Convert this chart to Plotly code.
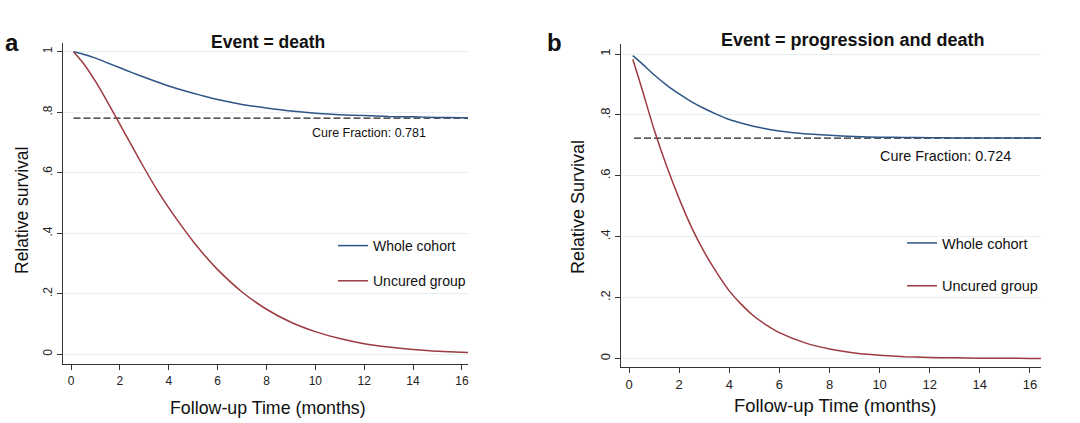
import plotly.graph_objects as go

# ---------------- data ----------------
# Panel a: Event = death
t_a = [0.1, 0.5, 1, 1.5, 2, 2.5, 3, 3.5, 4, 4.5, 5, 5.5, 6, 7, 8, 9, 10, 11, 12, 13, 14,
       15, 16, 16.3]
whole_a = [1.0, 0.992, 0.979, 0.963, 0.947, 0.931, 0.916, 0.901, 0.887, 0.8745, 0.863,
           0.852, 0.842, 0.826, 0.814, 0.804, 0.797, 0.792, 0.789, 0.786, 0.785, 0.783,
           0.782, 0.782]
uncured_a = [1.0, 0.962, 0.902, 0.833, 0.76, 0.687, 0.615, 0.546, 0.484, 0.427, 0.373,
             0.324, 0.28, 0.206, 0.149, 0.106, 0.075, 0.052, 0.035, 0.024, 0.016, 0.010,
             0.007, 0.006]
cure_a = 0.781
cure_t_a = [0.1, 16.3]

# Panel b: Event = progression and death
t_b = [0.15, 0.5, 1, 1.5, 2, 2.5, 3, 3.5, 4, 4.5, 5, 5.5, 6, 7, 8, 9, 10, 11, 12, 13, 14,
       15, 16, 16.44]
whole_b = [0.995, 0.970, 0.932, 0.898, 0.869, 0.843, 0.821, 0.802, 0.785, 0.7726, 0.762,
           0.754, 0.747, 0.738, 0.733, 0.729, 0.727, 0.726, 0.725, 0.7246, 0.7243, 0.7242,
           0.7241, 0.7241]
uncured_b = [0.983, 0.89, 0.752, 0.632, 0.525, 0.43, 0.35, 0.282, 0.222, 0.176, 0.138,
             0.109, 0.085, 0.052, 0.031, 0.018, 0.011, 0.006, 0.0035, 0.002, 0.0011,
             0.0006, 0.0003, 0.0002]
cure_b = 0.724
cure_t_b = [0.2, 16.44]

x_ticks = [0, 2, 4, 6, 8, 10, 12, 14, 16]
y_ticks = [0, 0.2, 0.4, 0.6, 0.8, 1]
y_tick_labels = ["0", ".2", ".4", ".6", ".8", "1"]

BLUE = "#2d5687"
RED = "#9c3a40"
FONT = "Liberation Sans, Arial, Helvetica, sans-serif"
W, H = 1080, 423

fig = go.Figure()

dash_line = dict(color="#222222", width=1.2, dash="7px,3px")
blue_line = dict(color=BLUE, width=1.5, shape="spline", smoothing=0.6)
red_line = dict(color=RED, width=1.5, shape="spline", smoothing=0.6)

# panel a traces
fig.add_trace(go.Scatter(x=cure_t_a, y=[cure_a] * len(cure_t_a), mode="lines", line=dash_line,
                         showlegend=False, xaxis="x", yaxis="y", hoverinfo="skip"))
fig.add_trace(go.Scatter(x=t_a, y=whole_a, mode="lines", name="Whole cohort", line=blue_line,
                         xaxis="x", yaxis="y", legend="legend", legendgroup="a1"))
fig.add_trace(go.Scatter(x=t_a, y=uncured_a, mode="lines", name="Uncured group", line=red_line,
                         xaxis="x", yaxis="y", legend="legend", legendgroup="a2"))

# panel b traces
fig.add_trace(go.Scatter(x=cure_t_b, y=[cure_b] * len(cure_t_b), mode="lines", line=dash_line,
                         showlegend=False, xaxis="x2", yaxis="y2", hoverinfo="skip"))
fig.add_trace(go.Scatter(x=t_b, y=whole_b, mode="lines", name="Whole cohort", line=blue_line,
                         xaxis="x2", yaxis="y2", legend="legend2", legendgroup="b1"))
fig.add_trace(go.Scatter(x=t_b, y=uncured_b, mode="lines", name="Uncured group", line=red_line,
                         xaxis="x2", yaxis="y2", legend="legend2", legendgroup="b2"))


def px_x(p):
    return p / W


def px_y(p):
    return 1 - p / H


axis_common = dict(showline=True, linecolor="#333333", linewidth=1.3, ticks="outside",
                   ticklen=5, tickwidth=1.1, tickcolor="#333333", zeroline=False)

fig.update_layout(
    width=W, height=H, margin=dict(l=0, r=0, t=0, b=0),
    paper_bgcolor="white", plot_bgcolor="white",
    font=dict(family=FONT, color="#111111"),
    xaxis=dict(domain=[px_x(63), px_x(468)], range=[-0.33, 16.25], tickvals=x_ticks,
               showgrid=False, anchor="y", tickfont=dict(size=12, color="#222222"),
               **axis_common),
    yaxis=dict(domain=[px_y(364), px_y(43)], range=[-0.032, 1.029], tickvals=y_ticks,
               ticktext=y_tick_labels, tickangle=-90, showgrid=True, gridcolor="#e6f0f2",
               gridwidth=1, anchor="x", tickfont=dict(size=12, color="#222222"),
               **axis_common),
    xaxis2=dict(domain=[px_x(621), px_x(1041)], range=[-0.32, 16.44], tickvals=x_ticks,
                showgrid=False, anchor="y2", tickfont=dict(size=13, color="#222222"),
                **axis_common),
    yaxis2=dict(domain=[px_y(367), px_y(44)], range=[-0.028, 1.033], tickvals=y_ticks,
                ticktext=y_tick_labels, tickangle=-90, showgrid=True, gridcolor="#e6f0f2",
                gridwidth=1, anchor="x2", tickfont=dict(size=13, color="#222222"),
                **axis_common),
    legend=dict(x=px_x(333), y=px_y(230), xanchor="left", yanchor="top",
                bgcolor="rgba(0,0,0,0)", font=dict(size=14, family=FONT),
                tracegroupgap=14, itemwidth=30),
    legend2=dict(x=px_x(902), y=px_y(227), xanchor="left", yanchor="top",
                 bgcolor="rgba(0,0,0,0)", font=dict(size=14.5, family=FONT),
                 tracegroupgap=21, itemwidth=30),
)

ann = []
# panel letters
ann.append(dict(text="<b>a</b>", x=px_x(3), y=px_y(42), xref="paper", yref="paper",
                xanchor="left", yanchor="middle", showarrow=False, font=dict(size=24)))
ann.append(dict(text="<b>b</b>", x=px_x(545), y=px_y(42), xref="paper", yref="paper",
                xanchor="left", yanchor="middle", showarrow=False, font=dict(size=24)))
# titles
ann.append(dict(text="<b>Event = death</b>", x=px_x(268), y=px_y(42), xref="paper",
                yref="paper", xanchor="center", yanchor="middle", showarrow=False,
                font=dict(size=17.5)))
ann.append(dict(text="<b>Event = progression and death</b>", x=px_x(853), y=px_y(40),
                xref="paper", yref="paper", xanchor="center", yanchor="middle",
                showarrow=False, font=dict(size=18)))
# axis titles
ann.append(dict(text="Relative survival", x=px_x(22), y=px_y(211), xref="paper",
                yref="paper", xanchor="center", yanchor="middle", textangle=-90,
                showarrow=False, font=dict(size=17.5)))
ann.append(dict(text="Relative Survival", x=px_x(578), y=px_y(207), xref="paper",
                yref="paper", xanchor="center", yanchor="middle", textangle=-90,
                showarrow=False, font=dict(size=18)))
ann.append(dict(text="Follow-up Time (months)", x=px_x(268), y=px_y(408), xref="paper",
                yref="paper", xanchor="center", yanchor="middle", showarrow=False,
                font=dict(size=17.8)))
ann.append(dict(text="Follow-up Time (months)", x=px_x(835), y=px_y(405), xref="paper",
                yref="paper", xanchor="center", yanchor="middle", showarrow=False,
                font=dict(size=18.4)))
# cure fraction labels
ann.append(dict(text=f"Cure Fraction: {cure_a}", x=14.61, y=0.732, xref="x", yref="y",
                xanchor="right", yanchor="middle", showarrow=False, font=dict(size=12.5)))
ann.append(dict(text=f"Cure Fraction: {cure_b}", x=15.32, y=0.665, xref="x2", yref="y2",
                xanchor="right", yanchor="middle", showarrow=False, font=dict(size=14.4)))
fig.update_layout(annotations=ann)

fig.write_html("out.html", config={"displayModeBar": False},
               post_script="document.body.style.margin='0';")
